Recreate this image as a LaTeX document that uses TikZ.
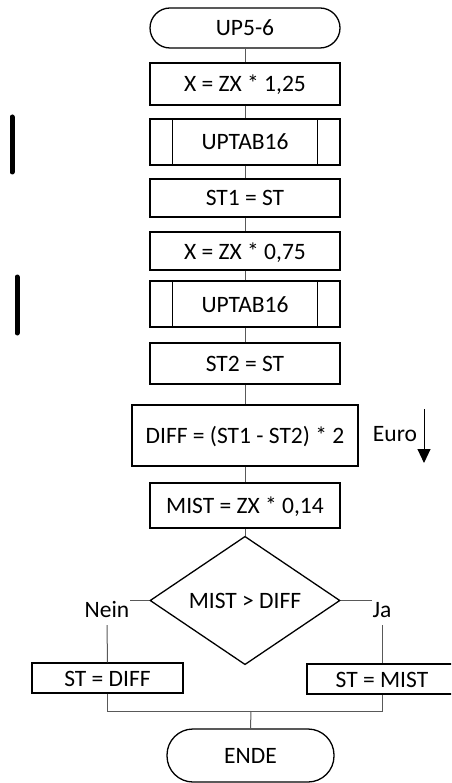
\documentclass[tikz,border=0pt]{standalone}
\usepackage{fontspec}
\setmainfont{Carlito}
\usetikzlibrary{shapes.geometric,arrows.meta}
\begin{document}
\begin{tikzpicture}[x=1pt,y=-1pt,
  every node/.style={font=\fontsize{23.5}{28}\selectfont, inner sep=0pt},
  box/.style={draw=black, line width=1.3pt, minimum width=190pt, text height=16pt, text depth=0pt},
  term/.style={box},
  conn/.style={draw=black!65, line width=1pt},
  bar/.style={line width=5pt, line cap=round},
  sub/.style={box}]
\useasboundingbox (0,0) rectangle (451,783);
\clip (0,0) rectangle (451,783);
% main column
\node[term, minimum height=40pt, rounded corners=20pt] (t1) at (245,28) {UP5-6};
\node[box, minimum height=42pt] (b1) at (245,84) {X = ZX * 1,25};
\node[sub, minimum height=46pt] (u1) at (245,142) {UPTAB16};
\node[box, minimum height=38pt] (b2) at (245,198) {ST1 = ST};
\node[box, minimum height=38pt] (b3) at (245,251) {X = ZX * 0,75};
\node[sub, minimum height=46pt] (u2) at (245,304) {UPTAB16};
\node[box, minimum height=41pt] (b4) at (245,363.5) {ST2 = ST};
\node[box, minimum width=226pt, minimum height=61pt] (b5) at (245,435.5) {DIFF = (ST1 - ST2) * 2};
\node[box, minimum height=45pt] (b6) at (245,505.5) {MIST = ZX * 0,14};
\node[draw=black, line width=1.3pt, shape=diamond, minimum width=190pt, minimum height=113pt, text height=16pt, text depth=0pt] (dia) at (245,600.5) {MIST > DIFF};
\node[box, minimum width=151pt, minimum height=30pt] (sd) at (107.5,678) {ST = DIFF};
\node[box, minimum width=150pt, minimum height=30pt] (sm) at (382,679) {ST = MIST};
\node[term, minimum width=167pt, minimum height=53pt, rounded corners=26pt] (ende) at (250.5,755.5) {ENDE};
% inner lines of predefined processes
\foreach \n in {u1,u2}{
  \draw[line width=1.3pt] ([xshift=23pt]\n.north west) -- ([xshift=23pt]\n.south west);
  \draw[line width=1.3pt] ([xshift=-23pt]\n.north east) -- ([xshift=-23pt]\n.south east);
}
% connectors
\draw[conn] (t1.south) -- (b1.north);
\draw[conn] (b1.south) -- (u1.north);
\draw[conn] (u1.south) -- (b2.north);
\draw[conn] (b2.south) -- (b3.north);
\draw[conn] (b3.south) -- (u2.north);
\draw[conn] (u2.south) -- (b4.north);
\draw[conn] (b4.south) -- (b5.north);
\draw[conn] (b5.south) -- (b6.north);
\draw[conn] (b6.south) -- (dia.north);
% branch labels
\node[anchor=base] (nein) at (107,617) {Nein};
\node[anchor=base] (ja) at (382,617) {Ja};
\coordinate (neinb) at (107,625);
\coordinate (jab) at (382,625);
\draw[conn] (dia.west) -- (dia.west -| nein.east);
\draw[conn] (dia.east) -- (dia.east -| ja.west);
\draw[conn] (neinb) -- (sd.north);
\draw[conn] (jab) -- (sm.north);
% merge
\coordinate (m) at (251,711);
\draw[conn] (sd.south) -- (sd.south |- m) -- (sm.south |- m) -- (sm.south);
\draw[conn] (m) -- (ende.north);
% Euro arrow
\node[anchor=base] (euro) at (395,441) {Euro};
\coordinate (ea) at (424,409);
\coordinate (eb) at (424,463);
\draw[line width=1pt, -{Triangle[width=13pt,length=14pt]}] (ea) -- (eb);
% side bars
\coordinate (p1) at (12,117);
\coordinate (p2) at (12,172);
\coordinate (p3) at (17,277);
\coordinate (p4) at (17,333);
\draw[bar] (p1) -- (p2);
\draw[bar] (p3) -- (p4);
\end{tikzpicture}
\end{document}
